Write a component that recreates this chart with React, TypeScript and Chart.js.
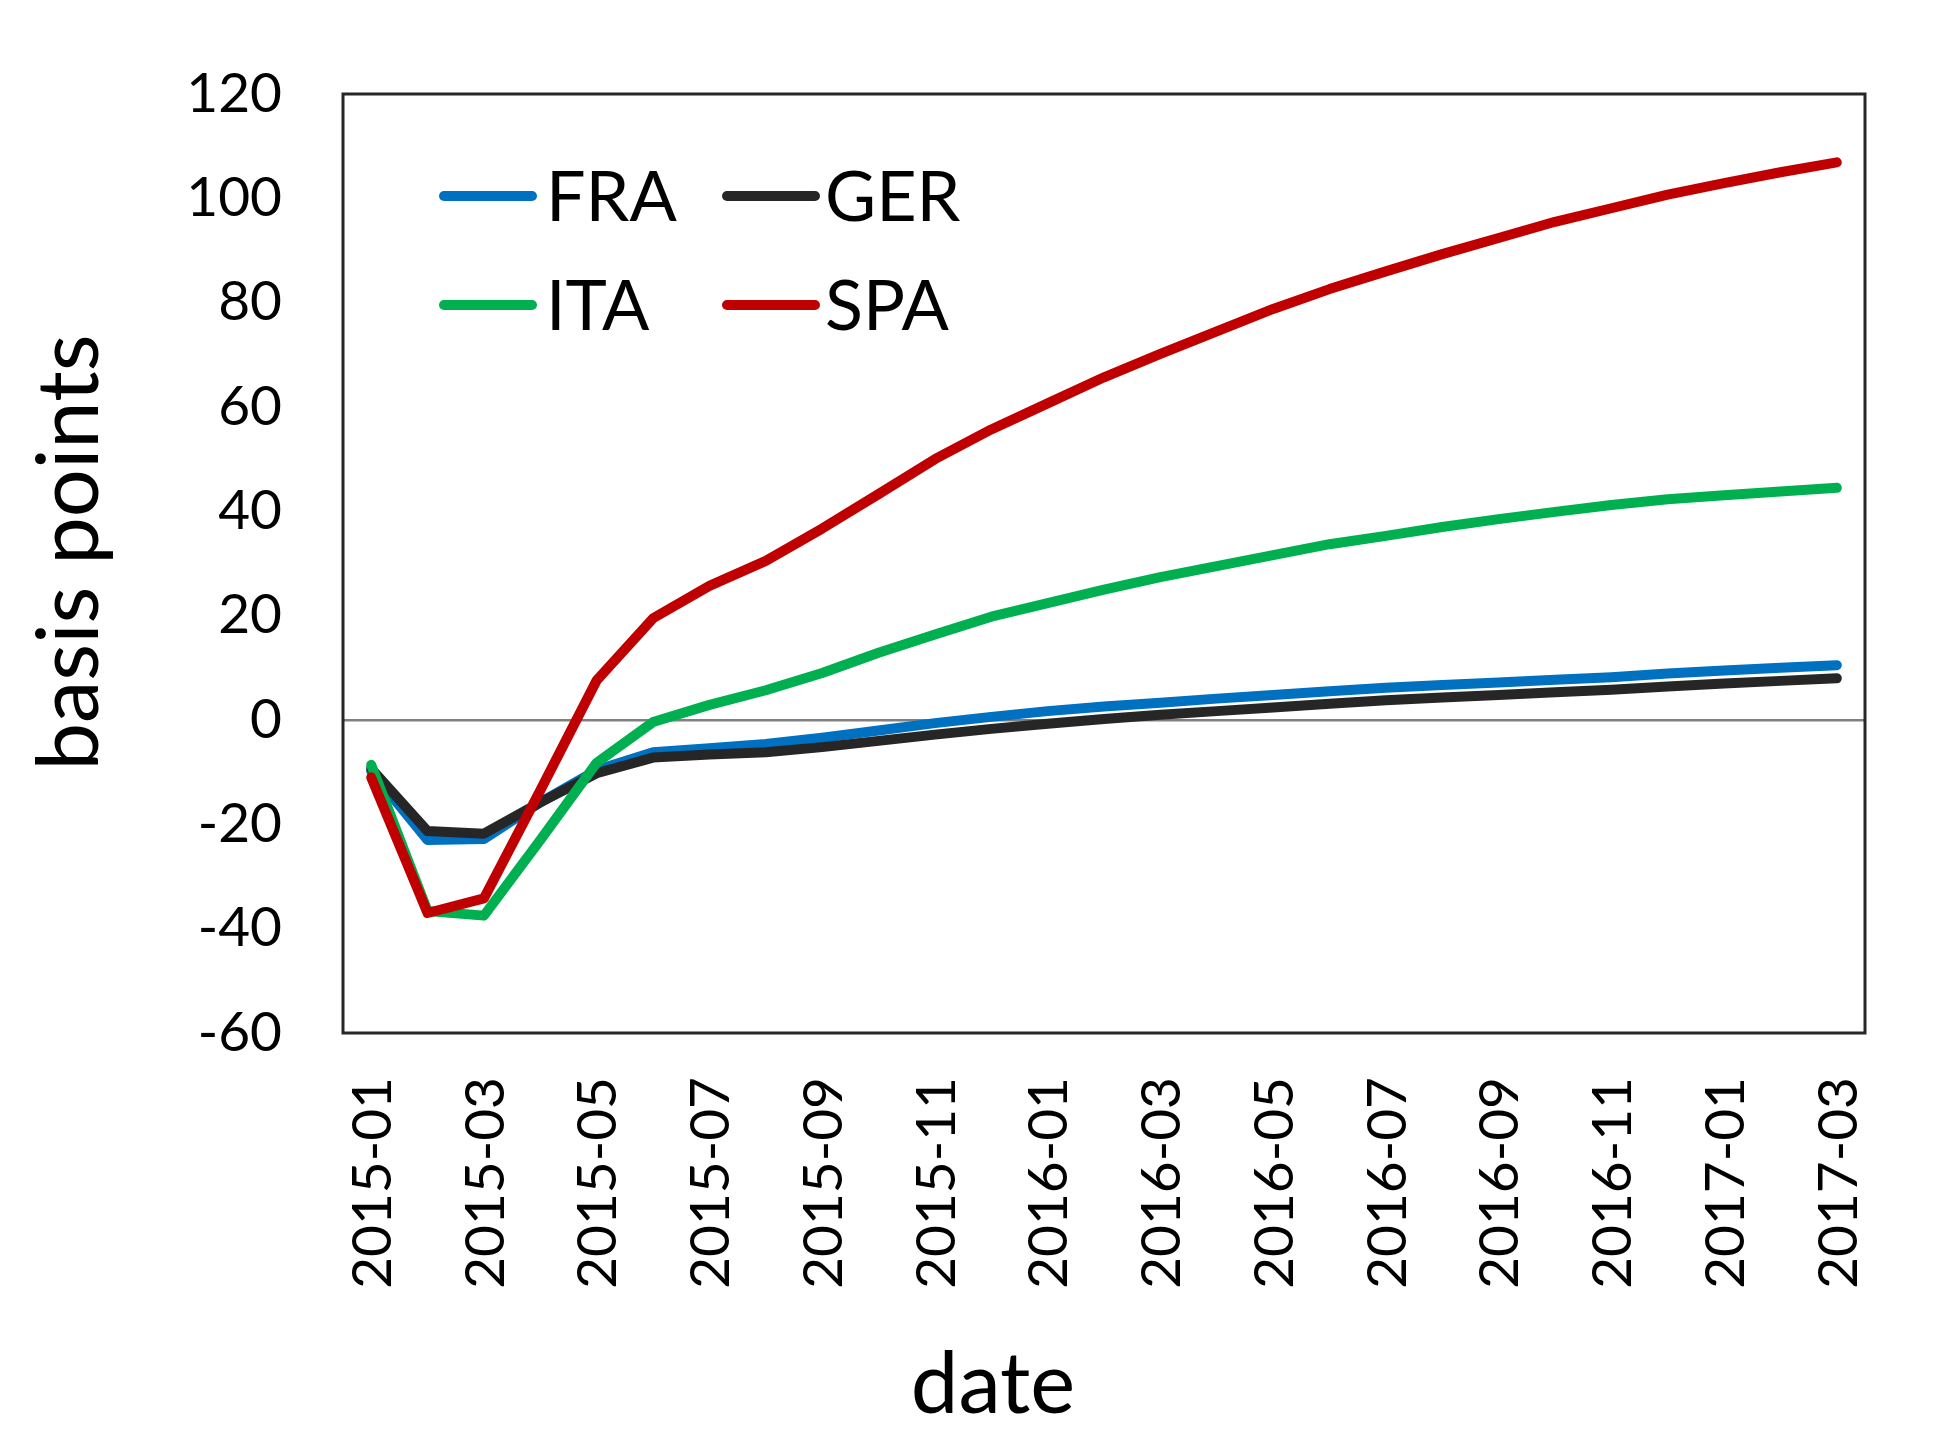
import React, { useEffect, useRef } from "react";
import { Chart, registerables } from "chart.js";

Chart.register(...registerables);

const months: string[] = [
  "2015-01", "2015-02", "2015-03", "2015-04", "2015-05", "2015-06", "2015-07",
  "2015-08", "2015-09", "2015-10", "2015-11", "2015-12", "2016-01", "2016-02",
  "2016-03", "2016-04", "2016-05", "2016-06", "2016-07", "2016-08", "2016-09",
  "2016-10", "2016-11", "2016-12", "2017-01", "2017-02", "2017-03",
];

const fra: number[] = [
  -9.8, -23, -22.8, -15.8, -9.6, -6.2, -5.4, -4.6, -3.4, -2.0, -0.6, 0.6, 1.7,
  2.6, 3.3, 4.1, 4.8, 5.5, 6.2, 6.7, 7.2, 7.7, 8.2, 8.9, 9.5, 10.0, 10.5,
];
const ger: number[] = [
  -9.3, -21.3, -21.8, -15.8, -10.2, -7.2, -6.6, -6.2, -5.2, -4.0, -2.8, -1.7,
  -0.7, 0.2, 1.0, 1.7, 2.4, 3.1, 3.8, 4.3, 4.8, 5.3, 5.8, 6.4, 7.0, 7.5, 8.0,
];
const ita: number[] = [
  -8.6, -36.6, -37.5, -23, -8.2, -0.4, 2.9, 5.7, 9.0, 12.9, 16.4, 19.8, 22.4,
  25.0, 27.4, 29.5, 31.6, 33.7, 35.3, 37.0, 38.5, 39.9, 41.2, 42.3, 43.1, 43.8,
  44.5,
];
const spa: number[] = [
  -11, -37, -34.2, -13.5, 7.6, 19.5, 25.7, 30.5, 36.7, 43.3, 50.0, 55.7, 60.7,
  65.7, 70.2, 74.5, 78.8, 82.6, 86.0, 89.3, 92.4, 95.5, 98.1, 100.7, 102.9,
  105.0, 106.9,
];

const seriesNames: string[] = ["FRA", "GER", "ITA", "SPA"];
const seriesColors: string[] = ["#0070C0", "#262626", "#00B050", "#C00000"];

const yTitle = "basis points";
const xTitle = "date";

const FONT = "Lato, 'Open Sans', sans-serif";

export default function App() {
  const ref = useRef<HTMLCanvasElement | null>(null);

  useEffect(() => {
    if (!ref.current) return;
    const values = [fra, ger, ita, spa];

    const framePlugin = {
      id: "frameAndTitles",
      afterDraw(chart: any) {
        const { ctx, chartArea } = chart;
        const { left, top, right, bottom } = chartArea;
        ctx.save();
        // frame
        ctx.strokeStyle = "#262626";
        ctx.lineWidth = 3;
        ctx.strokeRect(left, top, right - left, bottom - top);

        // legend
        ctx.lineCap = "round";
        ctx.lineWidth = 10;
        ctx.font = `70px ${FONT}`;
        ctx.fillStyle = "#000";
        ctx.textAlign = "left";
        ctx.textBaseline = "alphabetic";
        const lineCols = [left + 101, left + 384];
        const textCols = [left + 203, left + 482];
        const rows = [top + 102, top + 211];
        seriesNames.forEach((name, i) => {
          const lx = lineCols[i % 2];
          const cy = rows[Math.floor(i / 2)];
          ctx.strokeStyle = seriesColors[i];
          ctx.beginPath();
          ctx.moveTo(lx, cy);
          ctx.lineTo(lx + 88, cy);
          ctx.stroke();
          ctx.fillText(name, textCols[i % 2], cy + 25);
        });

        // axis titles
        ctx.font = `85px ${FONT}`;
        ctx.textAlign = "center";
        ctx.save();
        ctx.translate(90, (top + bottom) / 2 - 11);
        ctx.rotate(-Math.PI / 2);
        ctx.fillText(yTitle, 0, 0);
        ctx.restore();
        ctx.fillText(xTitle, 985, 1405);
        ctx.restore();
      },
    };

    const chart = new Chart(ref.current, {
      type: "line",
      data: {
        labels: months,
        datasets: seriesNames.map((name, i) => ({
          label: name,
          data: values[i],
          borderColor: seriesColors[i],
          backgroundColor: seriesColors[i],
          borderWidth: 10,
          pointRadius: 0,
          tension: 0,
          borderJoinStyle: "round" as const,
          borderCapStyle: "round" as const,
          order: 3 - i,
        })),
      },
      options: {
        animation: false,
        responsive: true,
        maintainAspectRatio: false,
        layout: { padding: { top: 86, right: 73, left: 0, bottom: 0 } },
        plugins: {
          legend: { display: false },
          tooltip: { enabled: false },
          title: { display: false },
        },
        scales: {
          x: {
            type: "category",
            offset: true,
            border: { display: false },
            grid: { display: false, drawTicks: false },
            ticks: {
              autoSkip: false,
              minRotation: 90,
              maxRotation: 90,
              padding: 44,
              labelOffset: 2,
              color: "#000",
              font: { family: FONT, size: 55 },
              callback: (_v: any, idx: number) => (idx % 2 === 0 ? months[idx] : ""),
            },
            afterFit: (scale: any) => {
              scale.height = 411;
              scale.paddingLeft = 0;
              scale.paddingRight = 0;
            },
          },
          y: {
            min: -60,
            max: 120,
            border: { display: false },
            grid: {
              drawTicks: false,
              lineWidth: 2.5,
              color: (c: any) => (c.tick && c.tick.value === 0 ? "#808080" : "rgba(0,0,0,0)"),
            },
            ticks: {
              stepSize: 20,
              padding: 61,
              color: "#000",
              font: { family: FONT, size: 55 },
            },
            afterFit: (scale: any) => {
              scale.width = 335;
              scale.paddingTop = 0;
              scale.paddingBottom = 0;
            },
          },
        },
      },
      plugins: [framePlugin],
    });

    return () => chart.destroy();
  }, []);

  return (
    <div style={{ width: 1930, height: 1436, position: "relative" }}>
      <canvas ref={ref} />
    </div>
  );
}
